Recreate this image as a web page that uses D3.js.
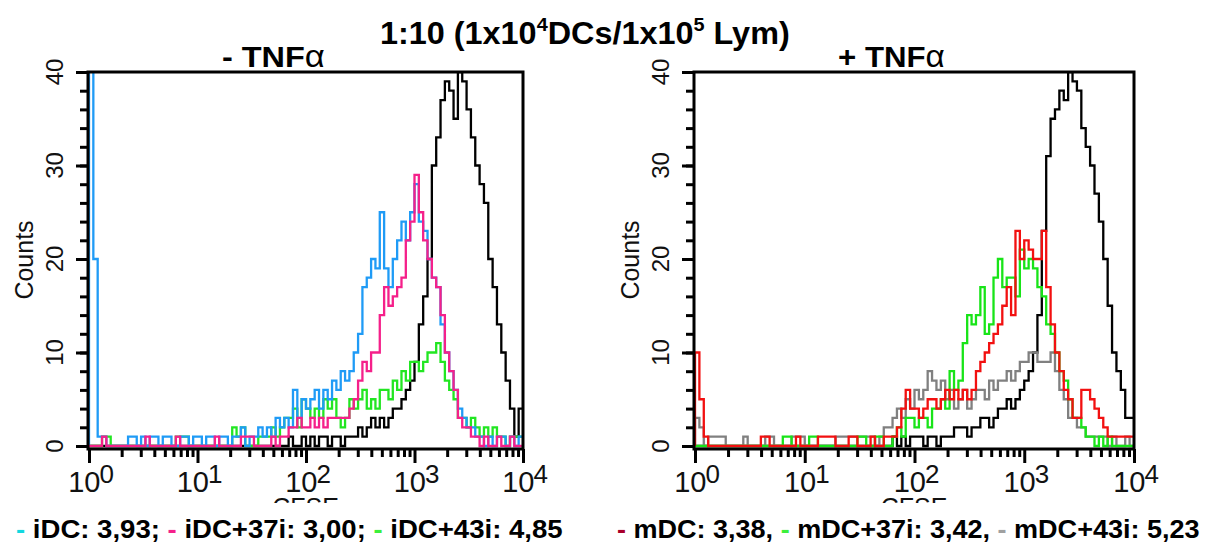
<!DOCTYPE html>
<html>
<head>
<meta charset="utf-8">
<script src="https://cdn.jsdelivr.net/npm/d3@7/dist/d3.min.js"></script>
<style>
  body { margin: 0; background: #fff; }
  svg { display: block; font-family: "Liberation Sans", Arial, Helvetica, sans-serif; }
</style>
</head>
<body>
<script>
// histogram channels: 25 per decade, 10^0 .. 10^4
var binsPerDecade = 25;
var decades = 4;
var yTicks = [0, 10, 20, 30, 40];
var xTickExp = [0, 1, 2, 3, 4];

// - TNFa panel
var ctrlMinus = [0,0,0,0,0,0,0,0,0,0,0,0,0,0,0,0,0,0,0,0,0,0,0,0,0,0,0,0,0,0,0,0,0,0,0,0,0,0,0,0,0,0,0,0,0,0,
  1,0,0,1,0,1,0,1,1,0,1,1,0,1,
  1,1,2,1,2,3,2,3,2,3,4,4,5,6,7,9,13,16,20,30,33,37,39,38,35,40,39,36,33,30,
  28,26,20,17,13,10,7,4,1,4];
var iDC = [45,20,1,1,0,0,0,0,0,1,1,0,1,0,1,1,0,1,1,0,0,1,1,0,1,1,0,1,1,0,1,1,0,1,1,2,0,1,1,2,1,2,1,3,2,3,
  2,6,3,5,4,5,6,4,6,5,7,6,8,7,
  8,10,12,17,18,20,19,25,19,17,20,22,24,22,25,28,24,23,20,18,17,13,10,8,6,4,3,2,2,1,
  1,0,1,0,1,1,0,1,0,1];
var iDC37i = [0,0,0,1,0,0,0,0,0,0,0,0,0,1,0,0,0,0,0,0,1,0,0,0,0,0,0,0,0,1,0,0,0,0,0,1,1,1,0,0,0,0,1,0,1,1,
  2,2,3,2,2,3,2,3,2,3,3,3,3,3,
  4,5,7,9,8,10,10,14,17,15,16,17,18,22,24,29,25,22,20,18,17,14,10,8,6,3,2,2,1,1,
  0,1,0,0,1,0,0,1,0,0];
var iDC43i = [0,0,0,1,1,0,0,0,0,0,0,0,0,0,0,0,0,0,0,0,1,1,1,0,0,0,0,0,0,0,0,0,0,2,1,2,0,0,0,1,1,1,2,1,2,3,
  3,4,2,5,4,3,4,3,5,4,5,3,2,3,
  5,4,5,6,4,5,4,6,6,5,7,6,8,7,9,9,8,9,10,10,11,9,7,6,5,3,3,2,3,2,
  1,2,1,2,1,1,0,1,1,1];

// + TNFa panel
var ctrlPlus = [0,0,0,0,0,0,0,0,0,0,0,0,0,0,0,0,0,0,0,0,0,0,0,0,0,0,0,0,0,0,0,0,0,0,0,0,0,0,0,0,0,0,0,0,0,
  1,0,1,0,1,1,1,0,1,1,0,1,1,1,2,
  2,2,1,2,2,3,3,2,3,4,4,5,4,5,6,7,8,10,14,23,31,35,36,38,37,40,39,38,34,32,
  30,27,24,20,15,10,8,6,3,3];
var mDC = [10,5,1,0,0,0,0,0,0,0,0,0,0,0,0,1,1,0,0,0,0,0,0,1,0,0,0,0,1,1,1,1,0,0,0,1,1,0,0,0,1,0,0,1,1,
  1,2,4,6,4,4,3,4,5,5,4,5,6,5,6,5,6,5,
  6,8,9,10,11,12,13,15,17,14,23,20,22,21,20,20,23,17,13,10,8,6,5,3,3,6,6,5,4,3,2,1,1,1,1,1,1];
var mDC37i = [0,0,0,0,0,0,0,0,0,0,0,0,0,0,0,0,0,0,0,0,1,1,0,0,0,0,1,1,0,0,0,0,0,0,0,0,0,1,1,0,0,1,1,0,0,
  1,2,1,3,3,2,3,3,2,4,4,5,4,8,6,7,11,14,13,14,17,12,13,18,20,17,18,18,16,21,
  19,20,19,17,16,13,12,10,8,7,5,3,3,2,1,1,0,1,0,1,0,0,0,0,0];
var mDC43i = [3,2,0,1,1,1,1,0,0,0,0,1,0,0,0,0,1,1,0,0,0,0,1,1,1,0,0,0,0,0,0,0,1,1,1,1,1,1,
  1,1,1,0,1,2,2,3,4,3,5,4,6,5,6,8,7,6,7,5,6,4,5,6,4,5,6,6,5,7,
  6,7,7,8,7,8,9,9,10,10,9,9,9,10,8,6,5,3,3,2,2,1,1,1,1,1,0,1,0,0,1,0];

var legendMinus = ['iDC: 3,93;', 'iDC+37i: 3,00;', 'iDC+43i: 4,85'];
var legendPlus = ['mDC: 3,38,', 'mDC+37i: 3,42,', 'mDC+43i: 5,23'];

var panels = [{
    left: 88, right: 523, sign: '- ', titleX: 222, titleW: 103,
    legendX: 16, legendW: 547, legend: legendMinus,
    legendColors: ['#12d8e0', '#f5208a', '#3cef3c'],
    series: [
        { values: ctrlMinus, color: '#000000' },
        { values: iDC43i, color: '#22e622' },
        { values: iDC, color: '#1f9bf6' },
        { values: iDC37i, color: '#f5208a' }
    ]
}, {
    left: 694, right: 1134, sign: '+ ', titleX: 838, titleW: 107,
    legendX: 617, legendW: 583, legend: legendPlus,
    legendColors: ['#a8002a', '#3cef3c', '#a0a0a0'],
    series: [
        { values: ctrlPlus, color: '#000000' },
        { values: mDC43i, color: '#808080' },
        { values: mDC37i, color: '#18e418' },
        { values: mDC, color: '#f21010' }
    ]
}];

var settings = {
    width: 1210,
    height: 547,
    plotTop: 72,
    zeroY: 446,
    axisY: 449
};

var edges = d3.range(binsPerDecade * decades + 1).map(function(i) {
    return Math.pow(10, i / binsPerDecade);
});

var svg = d3.select('body')
    .append('svg')
    .attr('width', settings.width)
    .attr('height', settings.height);

// squeeze bold text horizontally to the width it has in the picture
function fitText(text, x, y, width) {
    var w = text.node().getBBox().width;
    text.attr('transform', 'translate(' + x + ',' + y + ') scale(' + (width / w) + ',1)');
}

var y = d3.scaleLinear()
    .domain([0, 40])
    .range([settings.zeroY, settings.plotTop]);

panels.forEach(function(p, pi) {
    var x = d3.scaleLog()
        .domain([1, 1e4])
        .range([p.left + 1, p.right]);

    var clipId = 'clip' + pi;
    svg.append('clipPath').attr('id', clipId)
        .append('rect')
        .attr('x', p.left).attr('y', settings.plotTop - 1)
        .attr('width', p.right - p.left).attr('height', settings.axisY - settings.plotTop);

    var line = d3.line()
        .x(function(d) { return x(d[0]); })
        .y(function(d) { return y(d[1]); })
        .curve(d3.curveStepAfter);

    var g = svg.append('g').attr('clip-path', 'url(#' + clipId + ')');
    p.series.forEach(function(s) {
        var n = s.values.length;
        var pts = [[edges[0], 0]]
            .concat(s.values.map(function(v, i) { return [edges[i], v]; }))
            .concat([[edges[n], s.values[n - 1]]]);
        g.append('path')
            .attr('d', line(pts))
            .attr('fill', 'none')
            .attr('stroke', s.color)
            .attr('stroke-width', 2.3);
    });

    // frame
    svg.append('rect')
        .attr('x', p.left).attr('y', settings.plotTop)
        .attr('width', p.right - p.left).attr('height', settings.axisY - settings.plotTop)
        .attr('fill', 'none').attr('stroke', '#000').attr('stroke-width', 3);

    // y axis: major + minor ticks
    var yMajor = svg.append('g')
        .attr('transform', 'translate(' + p.left + ',0)')
        .call(d3.axisLeft(y).tickValues(yTicks).tickSize(12).tickFormat(''));
    var yMinor = svg.append('g')
        .attr('transform', 'translate(' + p.left + ',0)')
        .call(d3.axisLeft(y).tickValues(d3.range(0, 41, 2)).tickSize(8).tickFormat(''));

    // x axis
    var majors = xTickExp.map(function(e) { return Math.pow(10, e); });
    var minors = [];
    xTickExp.slice(0, -1).forEach(function(e) {
        d3.range(2, 10).forEach(function(m) { minors.push(m * Math.pow(10, e)); });
    });
    var xMajor = svg.append('g')
        .attr('transform', 'translate(0,' + settings.axisY + ')')
        .call(d3.axisBottom(x).tickValues(majors).tickSize(14).tickFormat(''));
    var xMinor = svg.append('g')
        .attr('transform', 'translate(0,' + settings.axisY + ')')
        .call(d3.axisBottom(x).tickValues(minors).tickSize(8).tickFormat(''));

    [yMajor, yMinor, xMajor, xMinor].forEach(function(a) {
        a.select('.domain').remove();
        a.selectAll('.tick line').attr('stroke', '#000').attr('stroke-width', 3);
    });

    // y tick labels, rotated
    svg.append('g').selectAll('text')
        .data(yTicks)
        .enter()
        .append('text')
        .attr('transform', function(d) { return 'translate(' + (p.left - 25) + ',' + y(d) + ') rotate(-90)'; })
        .attr('text-anchor', 'middle')
        .attr('font-size', 24)
        .attr('fill', '#111')
        .text(function(d) { return d; });

    svg.append('text')
        .attr('transform', 'translate(' + (p.left - 55) + ',260) rotate(-90)')
        .attr('text-anchor', 'middle')
        .attr('font-size', 25)
        .attr('fill', '#111')
        .text('Counts');

    // x tick labels 10^n
    var xl = svg.append('g').selectAll('text')
        .data(xTickExp)
        .enter()
        .append('text')
        .attr('x', function(d) { return x(Math.pow(10, d)) + 2; })
        .attr('y', 492)
        .attr('text-anchor', 'middle')
        .attr('font-size', 29)
        .attr('fill', '#111');
    xl.append('tspan').text('10');
    xl.append('tspan')
        .attr('dx', -1).attr('dy', -9)
        .attr('font-size', 26)
        .text(function(d) { return d; });

    // axis title, cut off at the bottom as in the picture
    var cutId = 'cut' + pi;
    svg.append('clipPath').attr('id', cutId)
        .append('rect')
        .attr('x', p.left).attr('y', 490)
        .attr('width', p.right - p.left).attr('height', 13);
    svg.append('text')
        .attr('clip-path', 'url(#' + cutId + ')')
        .attr('x', (p.left + p.right) / 2)
        .attr('y', 516)
        .attr('text-anchor', 'middle')
        .attr('font-size', 25)
        .attr('fill', '#111')
        .text('CFSE');

    // panel title
    var t = svg.append('text')
        .attr('font-size', 29)
        .attr('font-weight', 'bold');
    t.append('tspan').text(p.sign + 'TNF');
    t.append('tspan').attr('font-weight', 'normal').attr('font-size', 31).text('\u03b1');
    fitText(t, p.titleX, 67, p.titleW);

    // legend
    var lg = svg.append('text')
        .attr('font-size', 25)
        .attr('font-weight', 'bold');
    p.legend.forEach(function(label, i) {
        lg.append('tspan').attr('fill', p.legendColors[i]).text((i ? ' ' : '') + '- ');
        lg.append('tspan').attr('fill', '#000').text(label);
    });
    fitText(lg, p.legendX, 538, p.legendW);
});

// main title
var title = svg.append('text')
    .attr('font-size', 31)
    .attr('font-weight', 'bold');
title.append('tspan').text('1:10 (1x10');
title.append('tspan').attr('font-size', 19).attr('dy', -13).text('4');
title.append('tspan').attr('dy', 13).text('DCs/1x10');
title.append('tspan').attr('font-size', 19).attr('dy', -13).text('5');
title.append('tspan').attr('dy', 13).text(' Lym)');
fitText(title, 380, 44, 410);
</script>
</body>
</html>
